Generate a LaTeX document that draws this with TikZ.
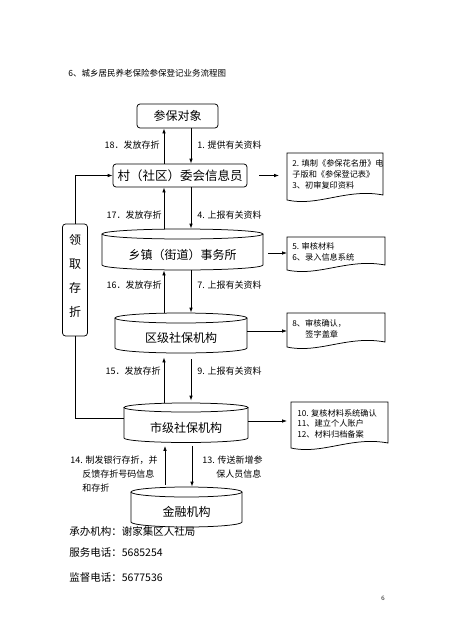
\documentclass[tikz,border=0pt]{standalone}
\usepackage{fontspec}
\setmainfont{Noto Sans CJK SC}
\newfontfamily\pnfont{Liberation Serif}
\usetikzlibrary{arrows.meta,calc}
\newcommand\mkcyl[7]{% name x1 x2 yt yb ry text-y ; text given after
  \pgfmathsetmacro\cylcx{(#2+#3)/2}\pgfmathsetmacro\cylrx{(#3-#2)/2}
  \draw (\cylcx,-#4) ellipse [x radius=\cylrx, y radius=#6];
  \draw (#2,-#4) -- (#2,-#5) arc[start angle=180,end angle=360,x radius=\cylrx,y radius=#6] -- (#3,-#4);
  \node[inner sep=0pt,minimum width={#3-#2},minimum height={#5-#4+2*#6}] (#1) at (\cylcx,{-(#4+#5)/2}) {};
  \node[ctext] (#1t) at (\cylcx,-#7)}
\newcommand\mkdoc[4]{% x1 x2 yt ybL
  \draw (#1,-#3) -- (#2,-#3) -- (#2,{-(#4-5)}) .. controls ({#1+0.62*(#2-#1)},{-(#4-12)}) and ({#1+0.32*(#2-#1)},{-(#4+7)}) .. (#1,-#4) -- cycle;}
\begin{document}
\begin{tikzpicture}[x=1pt,y=1pt,line width=0.75pt,
  arr/.style={-{Latex[length=5pt,width=3.6pt]}},
  rbox/.style={draw,rounded corners=3pt,inner sep=0pt,font=\fontsize{12}{14}\selectfont},
  lbl/.style={font=\fontsize{9}{11}\selectfont,inner sep=0pt},
  dtxt/.style={font=\fontsize{8.2}{10}\selectfont,inner sep=0pt,anchor=west},
  ctext/.style={font=\fontsize{12}{14}\selectfont,inner sep=0pt},
  info/.style={font=\fontsize{10.5}{12}\selectfont,inner sep=0pt,anchor=west},
]
\useasboundingbox (0,0) rectangle (452,-640);

\node[anchor=west,font=\fontsize{8.5}{10}\selectfont,inner sep=0pt] (title) at (68,-73) {6、城乡居民养老保险参保登记业务流程图};

% boxes
\node[rbox,minimum width=81pt,minimum height=24pt] (obj) at (177.5,-116) {参保对象};
\node[rbox,minimum width=134pt,minimum height=23pt,font=\fontsize{12.5}{14}\selectfont] (cun) at (180,-175.5) {村（社区）委会信息员};

% cylinders
\mkcyl{xiang}{102}{263}{234}{265}{5}{255} {乡镇（街道）事务所};
\mkcyl{qu}{115}{247}{318}{348}{5}{338} {区级社保机构};
\mkcyl{shi}{124}{248}{407.5}{438}{4.5}{428} {市级社保机构};
\mkcyl{jin}{131}{242}{492}{522}{5}{512} {金融机构};

% vertical connectors
\draw[arr] (164,0 |- cun.north) -- (164,0 |- obj.south);
\draw[arr] (191,0 |- obj.south) -- (191,0 |- cun.north);
\draw[arr] (164,0 |- xiang.north) -- (164,0 |- cun.south);
\draw[arr] (191,0 |- cun.south) -- (191,0 |- xiang.north);
\draw[arr] (164,0 |- qu.north) -- (164,0 |- xiang.south);
\draw[arr] (191,0 |- xiang.south) -- (191,0 |- qu.north);
\draw[arr,shorten >=4pt] (164,0 |- shi.north) -- (164,0 |- qu.south);
\draw[arr,shorten <=6pt,shorten >=2pt] (191,0 |- qu.south) -- (191,0 |- shi.north);
\draw[arr,shorten >=3pt,shorten <=2pt] (165,0 |- jin.north) -- (165,0 |- shi.south);
\draw[arr,shorten <=3pt] (192,0 |- shi.south) -- (192,0 |- jin.north);

% labels
\node[lbl,anchor=east] (l18) at (160,-145) {18．发放存折};
\node[lbl,anchor=west] (l1) at (197,-145) {1. 提供有关资料};
\node[lbl,anchor=east] (l17) at (162,-215) {17．发放存折};
\node[lbl,anchor=west] (l4) at (197,-215) {4. 上报有关资料};
\node[lbl,anchor=east] (l16) at (162,-285) {16．发放存折};
\node[lbl,anchor=west] (l7) at (197,-285) {7. 上报有关资料};
\node[lbl,anchor=east] (l15) at (161,-371) {15．发放存折};
\node[lbl,anchor=west] (l9) at (197,-371) {9. 上报有关资料};
\node[lbl,anchor=west] (l14a) at (70,-460) {14. 制发银行存折，并};
\node[lbl,anchor=west] (l14b) at (82,-474) {反馈存折号码信息};
\node[lbl,anchor=west] (l14c) at (82,-488) {和存折};
\node[lbl,anchor=west] (l13a) at (202,-460) {13. 传送新增参};
\node[lbl,anchor=west] (l13b) at (216,-474) {保人员信息};

% documents
\mkdoc{287}{383}{153}{200}
\coordinate (d1in) at (279,-176);
\node[dtxt] (d1a) at (292,-163) {2. 填制《参保花名册》电};
\node[dtxt] (d1b) at (292,-174) {子版和《参保登记表》};
\node[dtxt] (d1c) at (292,-185) {3、初审复印资料};
\mkdoc{287}{385}{237}{270}
\coordinate (d2in) at (287,-253);
\node[dtxt] (d2a) at (292,-246) {5. 审核材料};
\node[dtxt] (d2b) at (292,-257) {6、录入信息系统};
\mkdoc{287}{385}{313}{347}
\coordinate (d3in) at (287,-331);
\node[dtxt] (d3a) at (292,-323) {8、审核确认，};
\node[dtxt] (d3b) at (305,-334) {签字盖章};
\mkdoc{291}{388}{402}{448}
\coordinate (d4in) at (287,-421);
\node[dtxt] (d4a) at (297,-413) {10. 复核材料系统确认};
\node[dtxt] (d4b) at (297,-423.5) {11、建立个人账户};
\node[dtxt] (d4c) at (297,-434) {12、材料归档备案};

% horizontal connectors to documents
\draw[arr,shorten <=12pt] (cun.east) -- (cun.east -| d1in);
\draw[arr,shorten <=5pt] (xiang.east |- d2in) -- (d2in);
\draw[arr] (qu.east |- d3in) -- (d3in);
\draw[arr] (shi.east |- d4in) -- (d4in);

% left loop
\node[draw,rounded corners=3pt,minimum width=25pt,minimum height=112pt,inner sep=0pt] (lq) at (75,-280) {};
\node[ctext,align=center,font=\fontsize{12}{24}\selectfont] (lqt) at (75,-275.5) {领\\取\\存\\折};
\coordinate (shiw) at ([yshift=4.75pt]shi.west);
\draw (shiw) -- (lq.south |- shiw) -- (lq.south);
\draw[arr] (lq.north) -- (lq.north |- cun.west) -- (cun.west);

% info
\node[info] (i1) at (69,-531) {承办机构：谢家集区人社局};
\node[info] (i2) at (69,-553) {服务电话：5685254};
\node[info] (i3) at (69,-577) {监督电话：5677536};
\node[inner sep=0pt,font=\pnfont\fontsize{6.5}{8}\selectfont] (pn) at (383,-598) {6};
\end{tikzpicture}
\end{document}
